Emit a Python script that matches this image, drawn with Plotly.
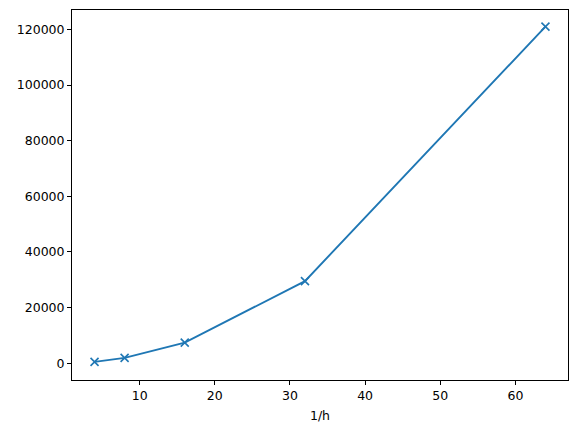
import plotly.graph_objects as go

x_vals = [4, 8, 16, 32, 64]
y_vals = [470, 1900, 7400, 29500, 121000]
x_ticks = [10, 20, 30, 40, 50, 60]
y_ticks = [0, 20000, 40000, 60000, 80000, 100000, 120000]
x_label = "1/h"

fig = go.Figure()
fig.add_trace(go.Scatter(
    x=x_vals, y=y_vals, mode="lines+markers",
    line=dict(color="#1f77b4", width=1.9),
    marker=dict(symbol="x-thin-open", size=8, color="#1f77b4",
                line=dict(color="#1f77b4", width=1.6)),
    showlegend=False,
))

axis_common = dict(
    showline=True, linecolor="black", linewidth=1, mirror=True,
    ticks="outside", ticklen=4, tickwidth=1, tickcolor="black",
    showgrid=False, zeroline=False,
    tickfont=dict(family="DejaVu Sans", size=12.5, color="black"),
)

fig.update_layout(
    width=578, height=432,
    margin=dict(l=72, r=10, t=10, b=52),
    paper_bgcolor="white", plot_bgcolor="white",
    font=dict(family="DejaVu Sans", size=12.5, color="black"),
    xaxis=dict(range=[1, 67], tickvals=x_ticks,
               title=dict(text=x_label, standoff=9,
                          font=dict(family="DejaVu Sans", size=12.5, color="black")),
               **axis_common),
    yaxis=dict(range=[-6050, 127000], tickvals=y_ticks, tickformat="d",
               **axis_common),
)

fig.write_html("out.html",
               config={"displayModeBar": False},
               post_script="document.body.style.margin='0';document.body.style.overflow='hidden';")
